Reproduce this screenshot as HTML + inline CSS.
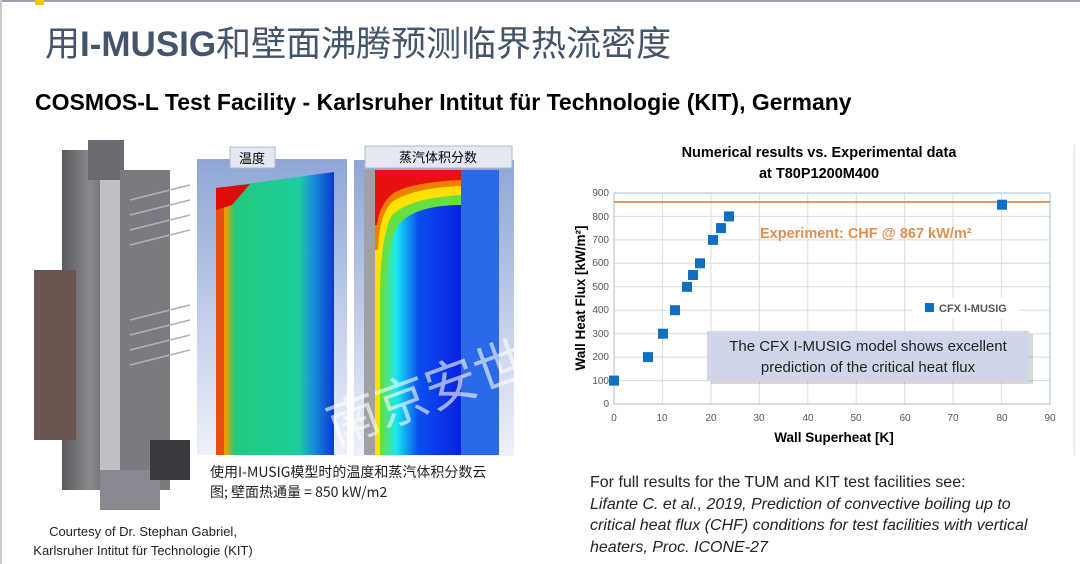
<!DOCTYPE html>
<html><head><meta charset="utf-8"><style>
body{margin:0;width:1080px;height:564px;background:#fff;position:relative;overflow:hidden;font-family:"Liberation Sans","Noto Sans CJK SC",sans-serif}
.a{position:absolute;white-space:nowrap}
</style></head><body>
<div class="a" style="left:0;top:0;width:1080px;height:2px;background:#9aa0b0"></div>
<div class="a" style="left:35px;top:0;width:9px;height:5px;background:#f5c400"></div>
<div class="a" style="left:0;top:0;width:2px;height:564px;background:#c8cad0"></div>
<div class="a" style="left:45px;top:16px;font-size:35px;color:#44546a;font-family:'Noto Sans CJK SC',sans-serif">用<b style="font-family:'Liberation Sans',sans-serif">I-MUSIG</b>和壁面沸腾预测临界热流密度</div>
<div class="a" style="left:35px;top:89px;font-size:23px;font-weight:bold;color:#000">COSMOS-L Test Facility - Karlsruher Intitut für Technologie (KIT), Germany</div>

<svg class="a" style="left:0;top:0" width="1080" height="564">
<defs>
<linearGradient id="bg" x1="0" y1="0" x2="0" y2="1"><stop offset="0" stop-color="#8fa6d6"/><stop offset="1" stop-color="#eef1fa"/></linearGradient>
<linearGradient id="tg" x1="0" y1="0" x2="1" y2="0"><stop offset="0" stop-color="#e52a10"/><stop offset="0.08" stop-color="#f0a000"/><stop offset="0.16" stop-color="#22c87a"/><stop offset="0.7" stop-color="#1ccfa0"/><stop offset="0.82" stop-color="#1890d8"/><stop offset="1" stop-color="#0a3ad0"/></linearGradient>
<linearGradient id="vg" x1="0" y1="0" x2="1" y2="0"><stop offset="0" stop-color="#ffd000"/><stop offset="0.1" stop-color="#5fe060"/><stop offset="0.25" stop-color="#18e8f0"/><stop offset="0.5" stop-color="#0a50f0"/><stop offset="1" stop-color="#0a20e0"/></linearGradient>
<linearGradient id="dv" x1="0" y1="0" x2="1" y2="0"><stop offset="0" stop-color="#5a5a5e"/><stop offset="0.5" stop-color="#8a8a90"/><stop offset="1" stop-color="#4a4a50"/></linearGradient>
</defs>
<rect x="62" y="150" width="58" height="340" fill="url(#dv)"/>
<rect x="88" y="140" width="36" height="40" fill="#6a6a70"/>
<rect x="120" y="170" width="50" height="320" fill="#7a7a80"/>
<rect x="100" y="180" width="20" height="300" fill="#c0c0c4"/>
<rect x="34" y="270" width="42" height="170" fill="#6a5450"/>
<rect x="100" y="470" width="60" height="40" fill="#888890"/>
<rect x="150" y="440" width="40" height="40" fill="#3a3a3e"/>
<g stroke="#b0b0b8" stroke-width="1.5"><line x1="130" y1="200" x2="190" y2="185"/><line x1="130" y1="215" x2="190" y2="200"/><line x1="130" y1="230" x2="190" y2="215"/><line x1="130" y1="245" x2="190" y2="230"/><line x1="130" y1="320" x2="190" y2="305"/><line x1="130" y1="335" x2="190" y2="320"/><line x1="130" y1="350" x2="190" y2="335"/><line x1="130" y1="365" x2="190" y2="350"/></g>
<rect x="197" y="159" width="150" height="296" fill="url(#bg)"/>
<polygon points="216,188 334,172 334,455 216,455" fill="url(#tg)"/>
<rect x="216" y="200" width="8" height="255" fill="#e85010"/>
<polygon points="216,188 250,184 232,205 216,210" fill="#e00a0a"/>
<rect x="230" y="147" width="45" height="21" fill="#e4e8f2" stroke="#b0b8c8"/>
<text x="252" y="163" font-size="13" text-anchor="middle" font-family="Noto Sans CJK SC">温度</text>
<rect x="354" y="160" width="160" height="296" fill="url(#bg)"/>
<rect x="364" y="170" width="12" height="285" fill="#a0a0a8"/>
<rect x="375" y="170" width="86" height="285" fill="url(#vg)"/>
<path d="M375,170 H461 V205 Q415,205 398,225 Q386,245 384,300 L384,455 L375,455 Z" fill="#66e040"/>
<path d="M375,170 H461 V195 Q410,198 392,215 Q381,235 380,290 L380,455 L375,455 Z" fill="#ffe000"/>
<path d="M375,170 H461 V186 Q412,188 392,202 Q379,215 378,250 L375,250 Z" fill="#f08000"/>
<path d="M375,170 H461 V180 Q415,182 395,192 Q380,202 377,225 L375,225 Z" fill="#e81010"/>
<rect x="461" y="170" width="38" height="285" fill="#2a6ae8"/>
<rect x="365" y="146" width="147" height="22" fill="#e4e8f2" stroke="#b0b8c8"/>
<text x="438" y="162" font-size="13" text-anchor="middle" font-family="Noto Sans CJK SC">蒸汽体积分数</text>
<text x="320" y="420" font-size="52" fill="#ffffff" fill-opacity="0.6" transform="rotate(-20 400 390)" font-family="Noto Sans CJK SC">南京安世</text>

<g font-size="10" fill="#555" text-anchor="end">
<g stroke="#dcdcdc" stroke-width="1">
<line x1="614" y1="380.6" x2="1050" y2="380.6"/><line x1="614" y1="357.1" x2="1050" y2="357.1"/><line x1="614" y1="333.7" x2="1050" y2="333.7"/><line x1="614" y1="310.2" x2="1050" y2="310.2"/><line x1="614" y1="286.8" x2="1050" y2="286.8"/><line x1="614" y1="263.3" x2="1050" y2="263.3"/><line x1="614" y1="239.9" x2="1050" y2="239.9"/><line x1="614" y1="216.4" x2="1050" y2="216.4"/>
<line x1="662.4" y1="193" x2="662.4" y2="404"/><line x1="710.9" y1="193" x2="710.9" y2="404"/><line x1="759.3" y1="193" x2="759.3" y2="404"/><line x1="807.8" y1="193" x2="807.8" y2="404"/><line x1="856.2" y1="193" x2="856.2" y2="404"/><line x1="904.7" y1="193" x2="904.7" y2="404"/><line x1="953.1" y1="193" x2="953.1" y2="404"/><line x1="1001.6" y1="193" x2="1001.6" y2="404"/>
</g>
<rect x="614" y="193" width="436" height="211" fill="none" stroke="#9cc0e6"/>
<text x="609" y="407">0</text><text x="609" y="384">100</text><text x="609" y="360">200</text><text x="609" y="337">300</text><text x="609" y="313">400</text><text x="609" y="290">500</text><text x="609" y="266">600</text><text x="609" y="243">700</text><text x="609" y="220">800</text><text x="609" y="196">900</text>
<g text-anchor="middle"><text x="614" y="421">0</text><text x="662" y="421">10</text><text x="711" y="421">20</text><text x="759" y="421">30</text><text x="808" y="421">40</text><text x="856" y="421">50</text><text x="905" y="421">60</text><text x="953" y="421">70</text><text x="1002" y="421">80</text><text x="1050" y="421">90</text></g>
</g>
<line x1="614" y1="202" x2="1050" y2="202" stroke="#d07a3a" stroke-width="1.6"/>
<text x="760" y="238" font-size="14.5" font-weight="bold" fill="#e09050">Experiment: CHF @ 867 kW/m²</text>
<g fill="#0f6fc0">
<rect x="609" y="375.6" width="10" height="10"/><rect x="643" y="352.1" width="10" height="10"/><rect x="658" y="328.7" width="10" height="10"/><rect x="670" y="305.2" width="10" height="10"/><rect x="682" y="281.8" width="10" height="10"/><rect x="688" y="270" width="10" height="10"/><rect x="695" y="258.3" width="10" height="10"/><rect x="708" y="234.9" width="10" height="10"/><rect x="716" y="223.1" width="10" height="10"/><rect x="724" y="211.4" width="10" height="10"/><rect x="997" y="199.7" width="10" height="10"/>
</g>
<rect x="912" y="298" width="108" height="20" fill="#fff"/>
<rect x="925" y="303" width="9" height="9" fill="#0f6fc0"/>
<text x="939" y="312" font-size="11" font-weight="bold" fill="#555">CFX I-MUSIG</text>
<rect x="709" y="332" width="322" height="50" fill="#000" opacity="0.15" transform="translate(2,2)"/>
<rect x="707" y="331" width="322" height="50" fill="#cfd6ea"/>
<text x="868" y="351" font-size="15" text-anchor="middle" fill="#222">The CFX I-MUSIG model shows excellent</text>
<text x="868" y="372" font-size="15" text-anchor="middle" fill="#222">prediction of the critical heat flux</text>
<text x="834" y="442" font-size="13.5" font-weight="bold" text-anchor="middle">Wall Superheat [K]</text>
<text transform="translate(585,298) rotate(-90)" font-size="13.5" font-weight="bold" text-anchor="middle">Wall Heat Flux [kW/m²]</text>
<text x="819" y="157" font-size="14.5" font-weight="bold" text-anchor="middle">Numerical results vs. Experimental data</text>
<text x="819" y="178" font-size="14.5" font-weight="bold" text-anchor="middle">at T80P1200M400</text>
<line x1="1074" y1="145" x2="1074" y2="455" stroke="#ddd"/>
</svg>

<div class="a" style="left:210px;top:462px;font-size:14px;color:#222;font-family:'Noto Sans CJK SC',sans-serif;line-height:20px">使用I-MUSIG模型时的温度和蒸汽体积分数云<br>图; 壁面热通量 = 850 kW/m2</div>
<div class="a" style="left:18px;top:522px;font-size:13px;color:#222;text-align:center;line-height:19px;width:250px">Courtesy of Dr. Stephan Gabriel,<br>Karlsruher Intitut für Technologie (KIT)</div>
<div class="a" style="left:590px;top:472px;font-size:16px;color:#222;line-height:21.5px">For full results for the TUM and KIT test facilities see:<br><i>Lifante C. et al., 2019, Prediction of convective boiling up to<br>critical heat flux (CHF) conditions for test facilities with vertical<br>heaters, Proc. ICONE-27</i></div>
</body></html>
